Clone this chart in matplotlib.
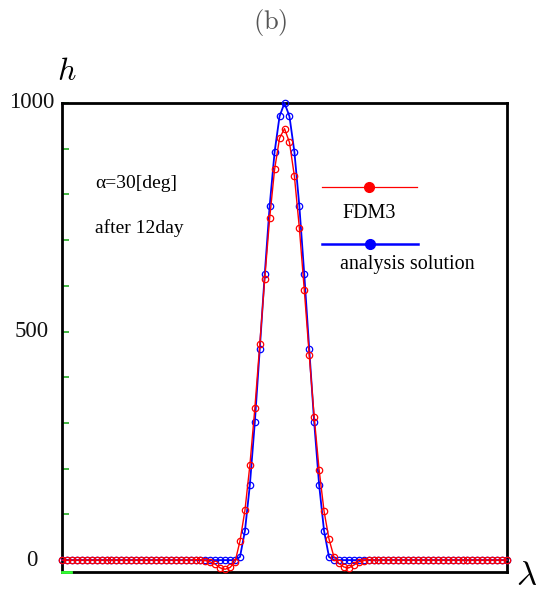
import numpy as np
import matplotlib
matplotlib.use("Agg")
import matplotlib.pyplot as plt

plt.rcParams['mathtext.fontset'] = 'cm'
plt.rcParams['font.family'] = ['Liberation Serif', 'DejaVu Serif']

# grid index along lambda (91 points)
lam = np.arange(91)

# FDM3 result
fdm3 = [0] * 27 + [1, 1, -1, -4, -9, -17, -20, -16, -4,
                   42, 109, 208, 332, 472, 615, 748, 855, 923, 944,
                   914, 840, 727, 591, 449, 314, 198, 107, 46, 7,
                   -7, -15, -17, -11, -4, -1, 1] + [0] * 28

# analysis solution
exact = [0] * 36 + [7, 64, 165, 302, 462, 625, 775, 893, 971, 1000,
                    971, 893, 775, 625, 462, 302, 165, 64, 7] + [0] * 36

ytick_vals = [0, 500, 1000]
ytick_labels = ['0', '500', '1000']

fig = plt.figure(figsize=(5.41, 5.96), dpi=100)
ax = fig.add_axes([62 / 541, 1 - 572 / 596, 445 / 541, 469 / 596])

ax.plot(lam, exact, color='#0000ff', lw=1.3, marker='o', ms=4.6, mfc='none',
        mec='#0000ff', mew=0.9, clip_on=False, zorder=3)
ax.plot(lam, fdm3, color='#ff0000', lw=1.0, marker='o', ms=4.6, mfc='none',
        mec='#ff0000', mew=0.9, clip_on=False, zorder=4)

ax.set_xlim(0, 90)
ax.set_ylim(-26, 1000)

for s in ax.spines.values():
    s.set_linewidth(2)
    s.set_color('black')

ax.set_xticks([])
ax.set_yticks(ytick_vals)
ax.set_yticklabels([])
ax.set_yticks(np.arange(100, 1000, 100), minor=True)
ax.tick_params(axis='y', which='both', direction='in', length=5, width=1.2,
               color='#22aa22')

# tick labels centred left of the axis
for v, t in zip(ytick_vals, ytick_labels):
    ax.text(-30 / 445, v, t, transform=ax.get_yaxis_transform(),
            ha='center', va='center', fontsize=16.5, color='#111111')

# little green mark at the bottom-left
ax.plot([0, 0.02], [0, 0], transform=ax.transAxes, color='#33ff33', lw=2,
        clip_on=False, zorder=5)

ax.text(0.074, 0.829, 'α=30[deg]', transform=ax.transAxes, fontsize=14,
        va='center', ha='left')
ax.text(0.074, 0.733, 'after 12day', transform=ax.transAxes, fontsize=14,
        va='center', ha='left')

# legend drawn by hand
ax.plot([0.584, 0.798], [0.821, 0.821], transform=ax.transAxes,
        color='#ff0000', lw=0.9)
ax.plot([0.690], [0.821], transform=ax.transAxes, marker='o', ms=7,
        color='#ff0000')
ax.text(0.631, 0.765, 'FDM3', transform=ax.transAxes, fontsize=14.5,
        va='center', ha='left')
ax.plot([0.584, 0.800], [0.699, 0.699], transform=ax.transAxes,
        color='#0000ff', lw=1.8)
ax.plot([0.692], [0.699], transform=ax.transAxes, marker='o', ms=7,
        color='#0000ff')
ax.text(0.625, 0.655, 'analysis solution', transform=ax.transAxes,
        fontsize=14.5, va='center', ha='left')

fig.text(67 / 541, 1 - 72 / 596, '$h$', fontsize=23, ha='center', va='center')
fig.text(527 / 541, 1 - 577 / 596, r'$\lambda$', fontsize=25, ha='center',
         va='center')
fig.text(270 / 541, 1 - 22 / 596, r'$\mathrm{(b)}$', fontsize=19,
         ha='center', va='center', color='#555555')

fig.savefig('out.png', dpi=100)
